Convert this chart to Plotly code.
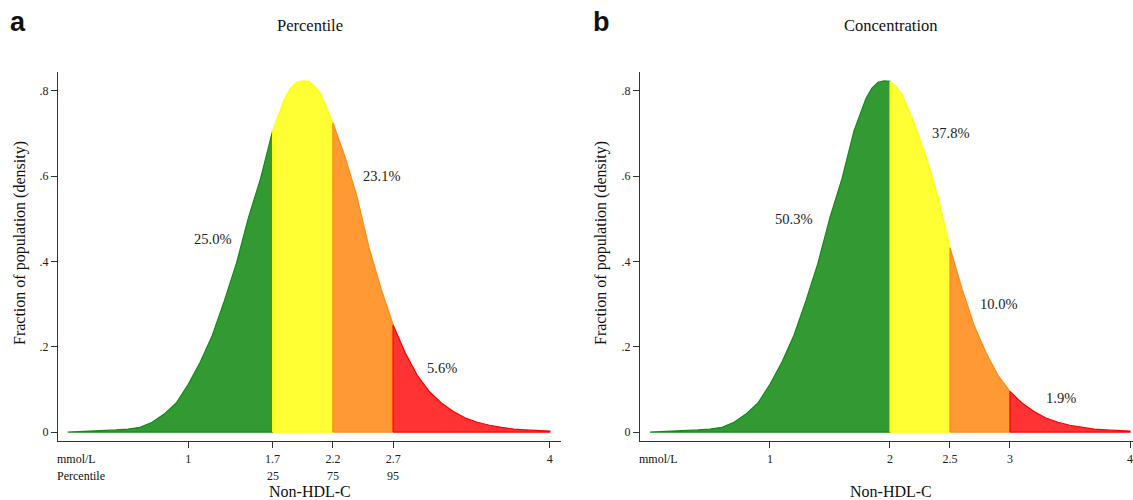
import plotly.graph_objects as go

# Non-HDL-C value grid (mmol/L) and density
conc = [0.0, 0.1, 0.2, 0.3, 0.4, 0.5, 0.6, 0.7, 0.8, 0.9, 1.0,
        1.1, 1.2, 1.3, 1.4, 1.5, 1.6, 1.7, 1.8, 1.85, 1.9, 1.95, 2.0,
        2.05, 2.1, 2.2, 2.3, 2.4, 2.5, 2.6, 2.7, 2.8, 2.9, 3.0,
        3.1, 3.2, 3.3, 3.4, 3.5, 3.6, 3.7, 3.8, 3.9, 4.0]
density = [0.000, 0.001, 0.002, 0.003, 0.005, 0.007, 0.011, 0.023, 0.042, 0.068, 0.112,
           0.164, 0.227, 0.308, 0.396, 0.503, 0.594, 0.706, 0.782, 0.806, 0.820, 0.823, 0.822,
           0.810, 0.792, 0.725, 0.646, 0.552, 0.432, 0.336, 0.251, 0.186, 0.133, 0.095,
           0.068, 0.048, 0.033, 0.023, 0.016, 0.011, 0.007, 0.005, 0.003, 0.002]

# Panel a: percentile cut points
cuts_a = [0.0, 1.7, 2.2, 2.7, 4.0]
pct_a = ["25.0%", "46.3%", "23.1%", "5.6%"]
ticks_a = [1, 1.7, 2.2, 2.7, 4]
tick_text_a = ["1", "1.7", "2.2", "2.7", "4"]
perc_ticks = [1.7, 2.2, 2.7]
perc_text = ["25", "75", "95"]

# Panel b: concentration cut points
cuts_b = [0.0, 2.0, 2.5, 3.0, 4.0]
pct_b = ["50.3%", "37.8%", "10.0%", "1.9%"]
ticks_b = [1, 2, 2.5, 3, 4]
tick_text_b = ["1", "2", "2.5", "3", "4"]

y_ticks = [0, 0.2, 0.4, 0.6, 0.8]
y_tick_text = ["0", ".2", ".4", ".6", ".8"]

fills = ["#339933", "#FFFF33", "#FF9933", "#FF3333"]
lines = ["#138A13", "#FFFF00", "#FF8C1A", "#FF0000"]

# label positions (data coords)
lab_pos_a = [(1.205, 0.452), (2.0, 0.848), (2.607, 0.600), (3.106, 0.150)]
lab_pos_b = [(1.20, 0.500), (2.508, 0.700), (2.908, 0.300), (3.425, 0.080)]

SERIF = "Liberation Serif, Times New Roman, serif"
fig = go.Figure()


def add_segments(cuts, xa, ya):
    for i in range(4):
        lo, hi = cuts[i], cuts[i + 1]
        xs = [c for c in conc if lo - 1e-9 <= c <= hi + 1e-9]
        ys = [d for c, d in zip(conc, density) if lo - 1e-9 <= c <= hi + 1e-9]
        px = [xs[0]] + xs + [xs[-1], xs[0]]
        py = [0] + ys + [0, 0]
        fig.add_trace(go.Scatter(x=px, y=py, mode="lines", fill="toself",
                                 fillcolor=fills[i],
                                 line=dict(color=lines[i], width=1.2),
                                 xaxis=xa, yaxis=ya, showlegend=False,
                                 hoverinfo="skip"))


add_segments(cuts_a, "x", "y")
add_segments(cuts_b, "x2", "y2")

W, H = 1133, 500
dom_y = [(H - 441) / H, (H - 72) / H]

axis_common = dict(showgrid=False, zeroline=False, showline=True, linecolor="#333333",
                   linewidth=1.2, ticks="outside", tickcolor="#333333", ticklen=6,
                   tickfont=dict(family=SERIF, size=12, color="#222222"))

fig.update_layout(
    width=W, height=H, margin=dict(l=0, r=0, t=0, b=0),
    plot_bgcolor="white", paper_bgcolor="white", showlegend=False,
    xaxis=dict(domain=[58 / W, 561 / W], range=[-0.081, 4.093],
               tickmode="array", tickvals=ticks_a, ticktext=tick_text_a, **axis_common),
    yaxis=dict(domain=dom_y, range=[-0.021, 0.844], tickmode="array",
               tickvals=y_ticks, ticktext=y_tick_text, **axis_common),
    xaxis2=dict(domain=[640 / W, 1.0], range=[-0.083, 4.025], anchor="y2",
                tickmode="array", tickvals=ticks_b, ticktext=tick_text_b, **axis_common),
    yaxis2=dict(domain=dom_y, range=[-0.021, 0.844], anchor="x2", tickmode="array",
                tickvals=y_ticks, ticktext=y_tick_text, **axis_common),
)

ann = []
for txt_, (x, y) in zip(pct_a, lab_pos_a):
    ann.append(dict(x=x, y=y, xref="x", yref="y", text=txt_, showarrow=False,
                    font=dict(family=SERIF, size=14.5, color="#222222")))
for txt_, (x, y) in zip(pct_b, lab_pos_b):
    ann.append(dict(x=x, y=y, xref="x2", yref="y2", text=txt_, showarrow=False,
                    font=dict(family=SERIF, size=14.5, color="#222222")))


def paper(px, py):
    return px / W, 1 - py / H


def txt(px, py, s, size=12, anchor="center", angle=0, family=SERIF, bold=False):
    x, y = paper(px, py)
    if bold:
        s = "<b>" + s + "</b>"
    ann.append(dict(x=x, y=y, xref="paper", yref="paper", text=s, showarrow=False,
                    xanchor=anchor, yanchor="middle", textangle=angle,
                    font=dict(family=family, size=size, color="#111111")))


# percentile row under panel a
for v, t in zip(perc_ticks, perc_text):
    ann.append(dict(x=v, y=1 - 476 / H, xref="x", yref="paper", yanchor="middle",
                    text=t, showarrow=False,
                    font=dict(family=SERIF, size=12, color="#222222")))

txt(55, 459, "mmol/L", 12, "left")
txt(55, 476, "Percentile", 12, "left")
txt(637, 459, "mmol/L", 12, "left")
txt(310, 491, "Non-HDL-C", 16)
txt(891, 491, "Non-HDL-C", 16)
txt(310, 25, "Percentile", 16.5)
txt(890, 25, "Concentration", 16.5)
txt(20, 243, "Fraction of population (density)", 16, angle=-90)
txt(601, 243, "Fraction of population (density)", 16, angle=-90)
txt(8, 22, "a", 27, "left", family="Liberation Sans, Arial, sans-serif", bold=True)
txt(591, 22, "b", 27, "left", family="Liberation Sans, Arial, sans-serif", bold=True)

fig.update_layout(annotations=ann)
fig.write_html("out.html", config={"displayModeBar": False},
               post_script="document.body.style.margin='0';document.body.style.overflow='hidden';")
